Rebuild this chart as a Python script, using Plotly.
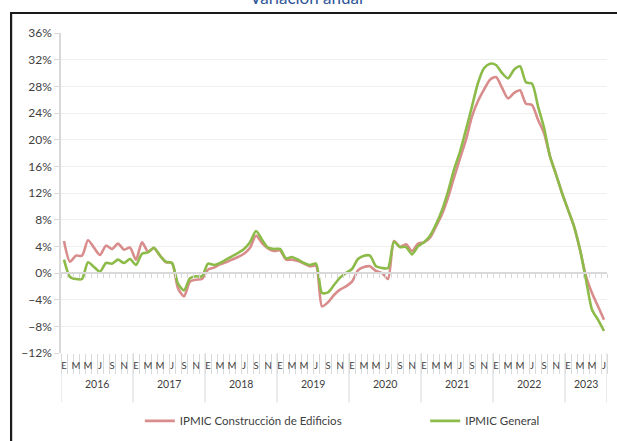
import plotly.graph_objects as go

years = ["2016", "2017", "2018", "2019", "2020", "2021", "2022", "2023"]
month_letters = ["E", "F", "M", "A", "M", "J", "J", "A", "S", "O", "N", "D"]
months = [f"{y}-{m:02d}" for y in years for m in range(1, 13)][:91]

edificios = [
    4.8, 1.7, 2.6, 2.6, 4.9, 3.8, 2.7, 4.1, 3.6, 4.4, 3.5, 3.8,
    2.0, 4.6, 3.2, 3.7, 2.6, 1.6, 1.5, -2.3, -3.5, -1.3, -1.0, -0.9,
    0.5, 0.8, 1.3, 1.6, 2.0, 2.4, 2.9, 3.8, 5.6, 4.5, 3.7, 3.3,
    3.4, 2.0, 2.0, 1.8, 1.4, 1.0, 1.1, -5.0, -4.4, -3.3, -2.5, -2.0,
    -1.3, 0.4, 0.9, 1.0, 0.3, 0.0, -0.9, 4.8, 3.9, 4.3, 3.3, 4.4,
    4.6, 5.3, 7.0, 8.8, 11.3, 14.3, 17.2, 20.0, 23.5, 25.8, 27.5, 29.0,
    29.4, 27.8, 26.2, 27.0, 27.4, 25.4, 25.2, 23.0, 21.0, 17.5, 14.8, 12.0,
    9.5, 7.0, 3.5, -0.5, -3.0, -5.0, -7.0,
]
general = [
    2.0, -0.6, -0.9, -0.9, 1.6, 0.9, 0.2, 1.5, 1.4, 2.0, 1.5, 2.1,
    1.2, 2.9, 3.1, 3.8, 2.6, 1.7, 1.5, -1.6, -2.6, -0.8, -0.5, -0.5,
    1.4, 1.2, 1.5, 2.0, 2.5, 3.0, 3.6, 4.6, 6.3, 5.0, 3.8, 3.6,
    3.6, 2.2, 2.4, 2.0, 1.5, 1.2, 1.4, -3.0, -2.9, -1.8, -0.7, 0.0,
    0.6, 2.1, 2.6, 2.6, 1.0, 0.75, 0.75, 4.7, 3.9, 3.9, 2.8, 4.0,
    4.6, 5.6, 7.3, 9.4, 12.2, 15.5, 18.2, 21.5, 25.0, 28.5, 30.7, 31.4,
    31.2, 30.0, 29.2, 30.5, 31.0, 28.6, 28.4, 25.0, 21.8, 17.5, 14.8, 12.0,
    9.5, 7.0, 3.5, -1.0, -5.5, -7.0, -8.7,
]

n = len(months)
xs = list(range(n))
red = "#D98C8C"
green = "#8DBB4A"
grey = "#D9D9D9"
font_family = "Lato, Open Sans, sans-serif"

fig = go.Figure()
fig.add_trace(go.Scatter(x=xs, y=edificios, name="IPMIC Construcción de Edificios",
                         mode="lines", legend="legend",
                         line=dict(color=red, width=2.6, shape="spline", smoothing=0.7)))
fig.add_trace(go.Scatter(x=xs, y=general, name="IPMIC General",
                         mode="lines", legend="legend2",
                         line=dict(color=green, width=2.6, shape="spline", smoothing=0.7)))

boundaries = [i - 0.5 for i in range(n + 1)]
label_pos = [i for i in xs if i % 2 == 0]
label_txt = [month_letters[i % 12] for i in label_pos]

legend_common = dict(orientation="h", yanchor="middle", y=-0.212, xanchor="left",
                     font=dict(size=11.5, color="#404040"), bgcolor="rgba(0,0,0,0)",
                     itemwidth=30)

fig.update_layout(
    width=617, height=441,
    margin=dict(l=61, r=10, t=33, b=88, autoexpand=False),
    paper_bgcolor="white", plot_bgcolor="white",
    font=dict(family=font_family, color="#404040"),
    showlegend=True,
    legend=dict(x=0.1444, **legend_common),
    legend2=dict(x=0.667, **legend_common),
    xaxis=dict(range=[-0.5, n - 0.5], tickmode="array", tickvals=boundaries,
               ticks="outside", ticklen=20, tickcolor=grey, tickwidth=1,
               showticklabels=False, showgrid=False, zeroline=False, showline=False),
    xaxis2=dict(range=[-0.5, n - 0.5], overlaying="x", anchor="free", position=0,
                tickmode="array", tickvals=label_pos, ticktext=label_txt,
                ticks="outside", ticklen=4, tickcolor="rgba(0,0,0,0)",
                tickfont=dict(size=9.5, color="#404040"), side="bottom",
                showgrid=False, zeroline=False, showline=False),
    xaxis3=dict(range=[-0.5, n - 0.5], overlaying="x", anchor="free", position=0.25,
                tickmode="array", tickvals=boundaries, ticks="outside", ticklen=4,
                tickcolor=grey, showticklabels=False, showgrid=False, zeroline=False,
                showline=True, linecolor=grey, linewidth=1.5, side="bottom"),
    yaxis=dict(range=[-12, 36], dtick=4, tick0=0, ticksuffix="%", showgrid=True,
               gridcolor="#EFEFEF", gridwidth=1, zeroline=False, showline=True,
               linecolor=grey, linewidth=1.5, ticks="outside", ticklen=5, tickcolor=grey,
               tickfont=dict(size=12, color="#404040")),
)

# invisible traces to activate the helper axes
fig.add_trace(go.Scatter(x=[0], y=[0], xaxis="x2", mode="markers", marker=dict(opacity=0),
                         showlegend=False, hoverinfo="skip"))
fig.add_trace(go.Scatter(x=[0], y=[0], xaxis="x3", mode="markers", marker=dict(opacity=0),
                         showlegend=False, hoverinfo="skip"))

# year separators and labels
for k, yr in enumerate(years):
    start = k * 12 - 0.5
    end = min((k + 1) * 12, n) - 0.5
    fig.add_annotation(x=(start + end) / 2, y=-0.122, xref="x", yref="paper", text=yr,
                       showarrow=False, font=dict(size=10.5, color="#404040"))
for k in range(len(years)):
    xb = k * 12 - 0.5
    fig.add_shape(type="line", x0=xb, x1=xb, y0=0, y1=-0.155, xref="x", yref="paper",
                  line=dict(color=grey, width=1))
fig.add_shape(type="line", x0=n - 0.5, x1=n - 0.5, y0=0, y1=-0.155, xref="x", yref="paper",
              line=dict(color=grey, width=1))

# title (mostly cropped at the top edge, as in the source image)
fig.add_annotation(x=0.45, y=1.072, xref="paper", yref="paper", yanchor="bottom",
                   text="Variación anual", showarrow=False,
                   font=dict(size=17, color="#2F5597"))

# outer frame
fig.add_shape(type="rect", x0=-0.0914, x1=1.2, y0=-0.6, y1=1.0625, xref="paper", yref="paper",
              line=dict(color="#1A1A1A", width=2.2), fillcolor="rgba(0,0,0,0)", layer="below")

fig.write_html("out.html")
